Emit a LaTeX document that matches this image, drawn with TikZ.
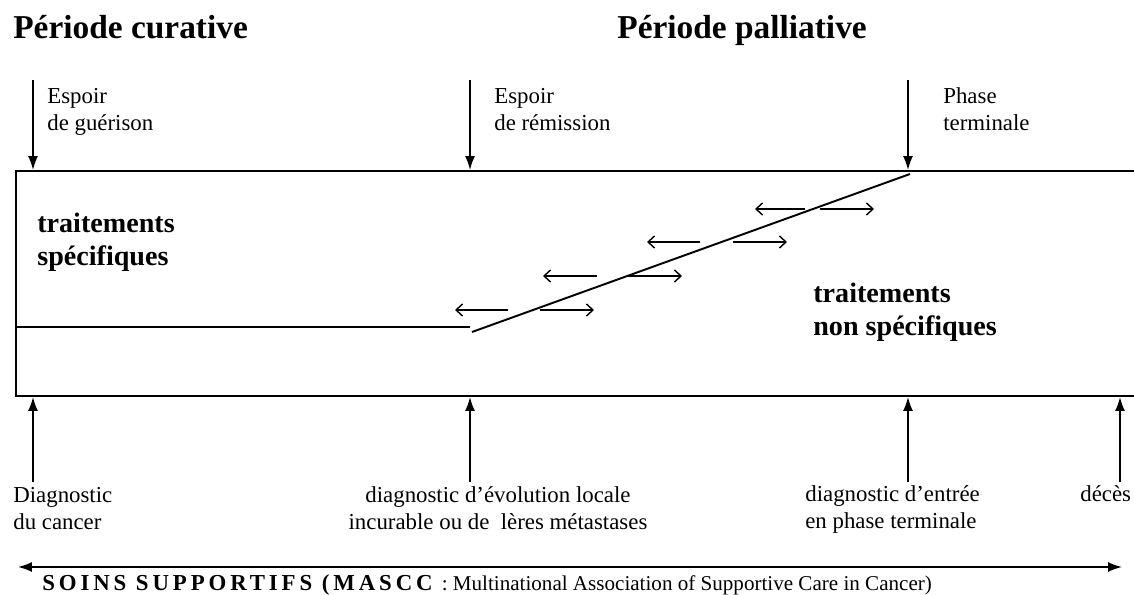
\documentclass[tikz,border=0pt]{standalone}
\usepackage{fontspec}
\setmainfont{Liberation Serif}
\usetikzlibrary{arrows.meta}

\begin{document}
\begin{tikzpicture}[x = 0.02cm, y = -0.02cm,
    trait/.style = {line width = 0.9pt},
    fleche/.style = {line width = 0.9pt, -{Latex[length=0.28cm, width=0.2cm]}},
    petite/.style = {line width = 0.8pt, -{Straight Barb[length=1.3mm, width=2.4mm]}},
    titre/.style = {font=\fontsize{19}{23}\selectfont\bfseries, inner sep=0pt, anchor=base west},
    etiq/.style = {font=\fontsize{13}{15}\selectfont, align=left, inner sep=0pt, anchor=base west},
    gras/.style = {font=\fontsize{16}{18.4}\selectfont\bfseries, align=left, inner sep=0pt, anchor=base west}]

    \useasboundingbox (0,0) rectangle (1134,595);

    % titres
    \node[titre] (curative) at (13,38) {Période curative};
    \node[titre] (palliative) at (617,38) {Période palliative};

    % le cadre
    \coordinate (hg) at (16,171);
    \coordinate (hd) at (1134,171);
    \coordinate (bg) at (16,396);
    \coordinate (bd) at (1134,396);
    \draw[trait] (hd) -- (hg) -- (bg) -- (bd);

    \coordinate (lim) at (16,327);
    \coordinate (pied) at (470,327);
    \coordinate (depart) at (472,332);
    \coordinate (sommet) at (910,174);
    \draw[trait] (lim) -- (pied);
    \draw[line width = 1.1pt] (depart) -- (sommet);

    % fleches du haut (base = derniere ligne)
    \node[etiq] (guerison) at (47,130) {Espoir\\de guérison};
    \node[etiq] (remission) at (494,130) {Espoir\\de rémission};
    \node[etiq] (terminale) at (943,130) {Phase\\terminale};

    \coordinate (g1) at (33,80);   \coordinate (g2) at (33,170);
    \coordinate (r1) at (470,80);  \coordinate (r2) at (470,170);
    \coordinate (t1) at (908,80);  \coordinate (t2) at (908,170);
    \draw[fleche] (g1) -- (g2);
    \draw[fleche] (r1) -- (r2);
    \draw[fleche] (t1) -- (t2);

    % traitements
    \node[gras] (specif) at (37,265) {traitements\\spécifiques};
    \node[gras] (nonspecif) at (813,335) {traitements\\non spécifiques};

    % va-et-vient
    \draw[petite] (508,310) -- (455,310);
    \draw[petite] (540,310) -- (594,310);
    \draw[petite] (597,276) -- (543,276);
    \draw[petite] (628,276) -- (682,276);
    \draw[petite] (700,242) -- (647,242);
    \draw[petite] (733,242) -- (787,242);
    \draw[petite] (805,209) -- (755,209);
    \draw[petite] (820,209) -- (874,209);

    % fleches du bas
    \node[etiq] (cancer) at (13,529) {Diagnostic\\du cancer};
    \node[etiq, align=center, anchor=base] (locale) at (498,529) {diagnostic d'évolution locale\\incurable ou de ~lères métastases};
    \node[etiq] (entree) at (805,528) {diagnostic d'entrée\\en phase terminale};
    \node[etiq] (deces) at (1080,501) {décès};

    \coordinate (c1) at (33,482);   \coordinate (c2) at (33,397);
    \coordinate (l1) at (470,482);  \coordinate (l2) at (470,397);
    \coordinate (e1) at (908,482);  \coordinate (e2) at (908,397);
    \coordinate (d1) at (1120,482); \coordinate (d2) at (1120,397);
    \draw[fleche] (c1) -- (c2);
    \draw[fleche] (l1) -- (l2);
    \draw[fleche] (e1) -- (e2);
    \draw[fleche] (d1) -- (d2);

    % soins de support
    \coordinate (sg) at (18,567);
    \coordinate (sd) at (1122,567);
    \draw[line width = 0.9pt, {Latex[length=0.28cm, width=0.2cm]}-{Latex[length=0.28cm, width=0.2cm]}] (sg) -- (sd);
    \node[etiq, font=\fontsize{12}{14}\selectfont] (soins) at (42,590) {\textbf{\fontsize{13}{15}\selectfont\addfontfeature{LetterSpace=17}SOINS SUPPORTIFS (MASCC} : Multinational Association of Supportive Care in Cancer)};

\end{tikzpicture}
\end{document}
